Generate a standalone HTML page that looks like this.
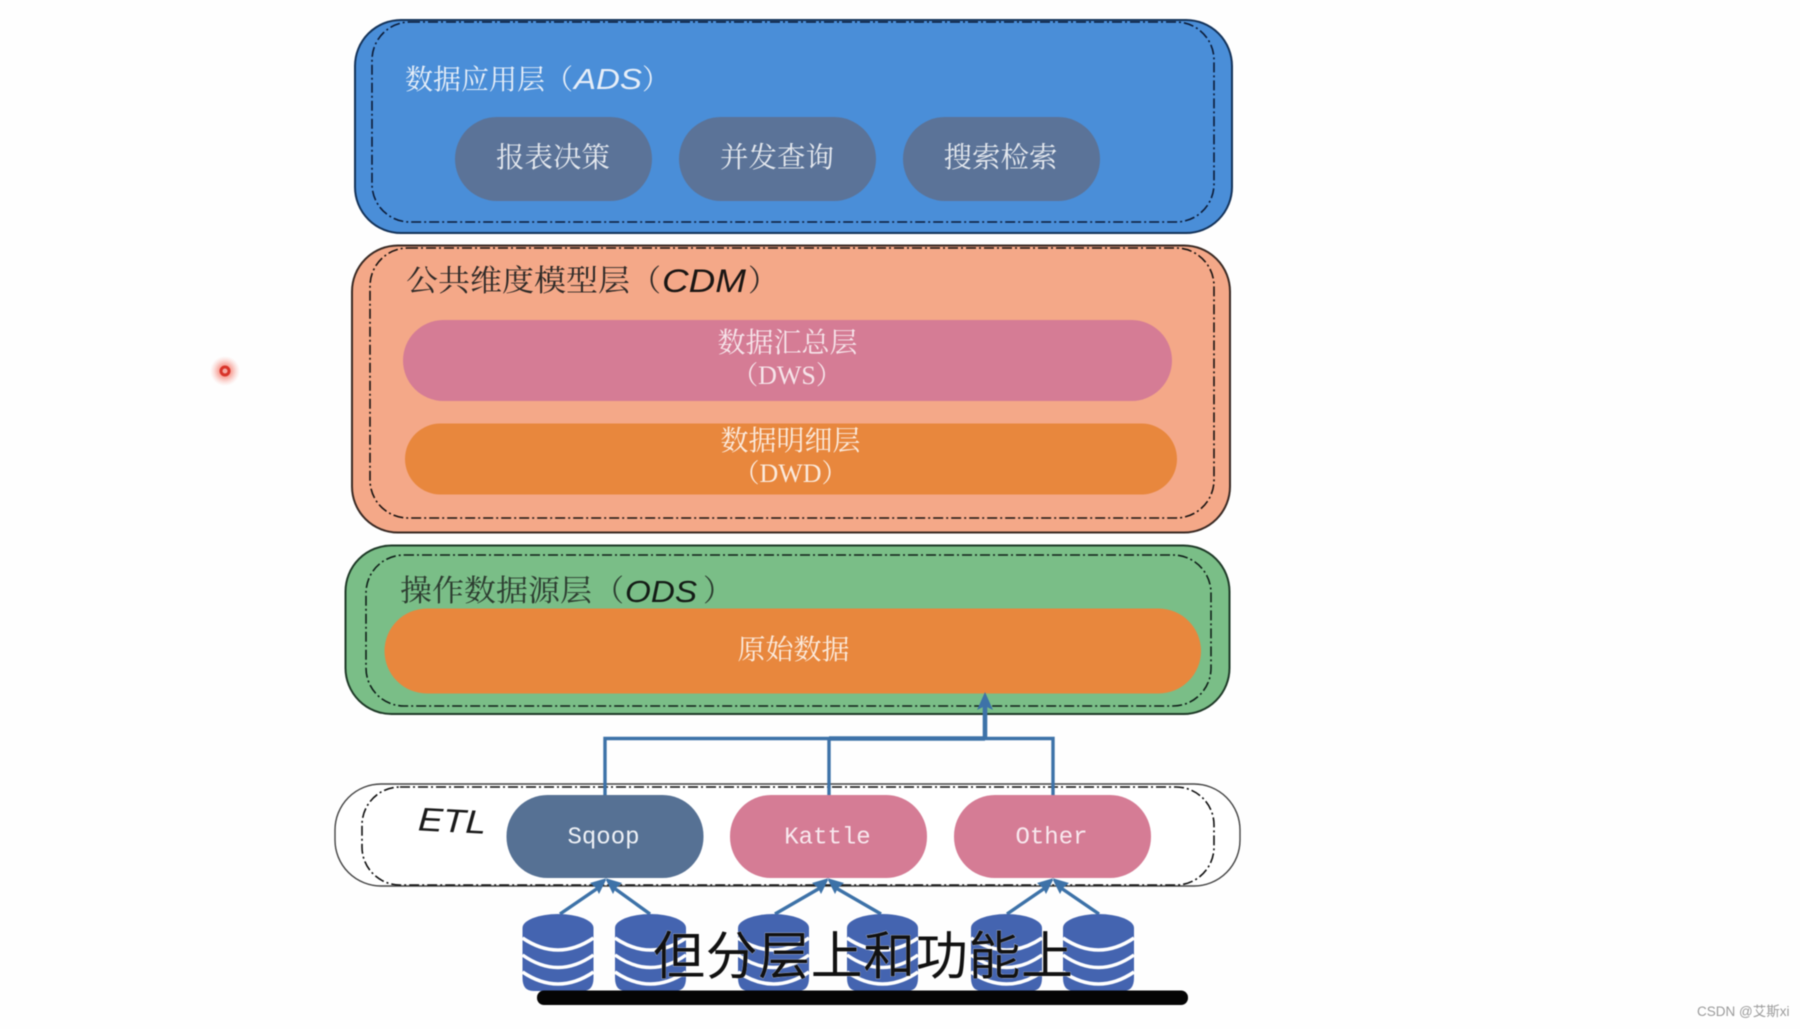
<!DOCTYPE html>
<html>
<head>
<meta charset="utf-8">
<style>
html,body{margin:0;padding:0;background:#fefefe;width:1800px;height:1029px;overflow:hidden}
svg{display:block;filter:blur(.55px)}
.s{font-family:"Liberation Serif","Noto Serif CJK SC",serif}
.h{font-family:"Liberation Sans","Noto Sans CJK SC",sans-serif}
.i{font-family:"Liberation Sans",sans-serif;font-style:italic}
.m{font-family:"Liberation Mono","Noto Serif CJK SC",monospace}
</style>
</head>
<body>
<svg width="1800" height="1029" viewBox="0 0 1800 1029" xmlns="http://www.w3.org/2000/svg">
<defs>
<radialGradient id="glow"><stop offset="0" stop-color="#f05040" stop-opacity=".8"/><stop offset=".45" stop-color="#f36a5a" stop-opacity=".55"/><stop offset="1" stop-color="#f8a8a0" stop-opacity="0"/></radialGradient>
<g id="db">
<path d="M0,14 A35.5,14 0 0 1 71,14 V64 Q71,77 60,77 H11 Q0,77 0,64 Z" fill="#4464b0"/>
<path d="M0,24 Q35.5,48 71,24 M0,41 Q35.5,66 71,41 M0,58 Q35.5,82 71,58" fill="none" stroke="#fff" stroke-width="3.5"/>
</g>
</defs>

<!-- ADS -->
<rect x="355" y="20" width="877" height="213" rx="46" fill="#4a8ed8" stroke="#14335a" stroke-width="2"/>
<rect x="372" y="22" width="842" height="200" rx="38" fill="none" stroke="#0c1c38" stroke-width="1.6" stroke-dasharray="10 3 2 3"/>
<text class="s" x="405" y="89" font-size="28" fill="#e6eef8">数据应用层</text>
<text class="s" x="545" y="89" font-size="28" fill="#e6eef8">（</text>
<text class="i" x="574" y="89" font-size="29" fill="#e6eef8" textLength="68" lengthAdjust="spacingAndGlyphs">ADS</text>
<text class="s" x="642" y="89" font-size="28" fill="#e6eef8">）</text>
<rect x="455" y="117" width="197" height="84" rx="42" fill="#5b7398"/>
<rect x="679" y="117" width="197" height="84" rx="42" fill="#5b7398"/>
<rect x="903" y="117" width="197" height="84" rx="42" fill="#5b7398"/>
<text class="s" x="553" y="167" font-size="28.5" fill="#e4e8ee" text-anchor="middle">报表决策</text>
<text class="s" x="777" y="167" font-size="28.5" fill="#e4e8ee" text-anchor="middle">并发查询</text>
<text class="s" x="1000.5" y="167" font-size="28.5" fill="#e4e8ee" text-anchor="middle">搜索检索</text>

<!-- CDM -->
<rect x="352" y="245.5" width="878" height="287" rx="46" fill="#f4a888" stroke="#3a2a24" stroke-width="2"/>
<rect x="370" y="248" width="844" height="270" rx="38" fill="none" stroke="#1a1412" stroke-width="1.6" stroke-dasharray="10 3 2 3"/>
<text class="s" x="406" y="291" font-size="30" fill="#2e2a28" textLength="224" lengthAdjust="spacingAndGlyphs">公共维度模型层</text>
<text class="s" x="631" y="291" font-size="30" fill="#2e2a28">（</text>
<text class="i" x="662" y="292" font-size="32" fill="#1a1614" textLength="84" lengthAdjust="spacingAndGlyphs">CDM</text>
<text class="s" x="748" y="291" font-size="30" fill="#2e2a28">）</text>
<rect x="403" y="320" width="769" height="81" rx="40.5" fill="#d57c95"/>
<rect x="405" y="423.5" width="772" height="71" rx="35.5" fill="#e8873d"/>
<text class="s" x="787.5" y="352" font-size="28" fill="#f6e4ea" text-anchor="middle">数据汇总层</text>
<text class="s" x="787" y="384" font-size="26" fill="#f6e4ea" text-anchor="middle">（DWS）</text>
<text class="s" x="790.5" y="450" font-size="28" fill="#fbeadc" text-anchor="middle">数据明细层</text>
<text class="s" x="790.5" y="482" font-size="26" fill="#fbeadc" text-anchor="middle">（DWD）</text>

<!-- ODS -->
<rect x="345.5" y="545.5" width="884" height="168.5" rx="46" fill="#7abe87" stroke="#1f3a28" stroke-width="2"/>
<rect x="366" y="555" width="845" height="151" rx="38" fill="none" stroke="#10201a" stroke-width="1.6" stroke-dasharray="10 3 2 3"/>
<text class="s" x="400" y="601" font-size="30" fill="#2c3c30" textLength="192" lengthAdjust="spacingAndGlyphs">操作数据源层</text>
<text class="s" x="594" y="601" font-size="30" fill="#2c3c30">（</text>
<text class="i" x="625" y="602" font-size="31" fill="#141c16" textLength="72" lengthAdjust="spacingAndGlyphs">ODS</text>
<text class="s" x="703" y="601" font-size="30" fill="#2c3c30">）</text>
<rect x="384.5" y="608.5" width="816.5" height="85" rx="42.5" fill="#e8873d"/>
<text class="s" x="793.5" y="659" font-size="28" fill="#fbeadc" text-anchor="middle">原始数据</text>

<!-- ETL -->
<rect x="335" y="784" width="905" height="102" rx="46" fill="#fff" stroke="#444" stroke-width="1.4"/>
<rect x="362" y="787" width="852" height="98" rx="38" fill="none" stroke="#111" stroke-width="1.6" stroke-dasharray="10 3 2 3"/>
<text class="i" x="418" y="832" font-size="33" fill="#1a1a1a" textLength="68" lengthAdjust="spacingAndGlyphs" transform="rotate(3 450 825)">ETL</text>

<!-- connectors -->
<path d="M605,796 V738.5 H1053 V796 M829,738.5 V796" fill="none" stroke="#3d72a8" stroke-width="3.4"/>
<path d="M829,738.5 H985 M985,738.5 V706" fill="none" stroke="#3d72a8" stroke-width="4.6"/>
<path d="M985,692 L993,710 L985,706 L977,710 Z" fill="#3d72a8"/>

<rect x="506.5" y="795" width="197" height="83" rx="41" fill="#567194"/>
<rect x="730" y="795" width="197" height="83" rx="41" fill="#d57c95"/>
<rect x="954" y="795" width="197" height="83" rx="41" fill="#d57c95"/>
<text class="m" x="603.5" y="843.5" font-size="24" fill="#eef1f6" text-anchor="middle">Sqoop</text>
<text class="m" x="827.5" y="843.5" font-size="24" fill="#f8e8ee" text-anchor="middle">Kattle</text>
<text class="m" x="1051.5" y="843.5" font-size="24" fill="#f8e8ee" text-anchor="middle">Other</text>

<!-- DB arrows -->
<g stroke="#3d72a8" stroke-width="3.4" fill="none">
<path d="M560,914 L598,888 M650,914 L614,888"/>
<path d="M775,914 L820,888 M881,914 L836,888"/>
<path d="M1007,914 L1045,888 M1099,914 L1061,888"/>
</g>
<g fill="#3d72a8">
<path d="M607,878 L590,883 L596,888 L599,894 Z M605,878 L622,883 L616,888 L613,894 Z"/>
<path d="M829,878 L812,883 L818,888 L821,894 Z M827,878 L844,883 L838,888 L835,894 Z"/>
<path d="M1054,878 L1037,883 L1043,888 L1046,894 Z M1052,878 L1069,883 L1063,888 L1060,894 Z"/>
</g>

<!-- databases -->
<use href="#db" x="522.5" y="914"/>
<use href="#db" x="615" y="914"/>
<use href="#db" x="738" y="914"/>
<use href="#db" x="847" y="914"/>
<use href="#db" x="971" y="914"/>
<use href="#db" x="1063" y="914"/>

<!-- subtitle -->
<text class="h" x="653" y="974.5" font-size="52" fill="#111" stroke="#fff" stroke-width="0.4" paint-order="stroke" textLength="420" lengthAdjust="spacing" font-weight="400">但分层上和功能上</text>
<rect x="537" y="990.5" width="651" height="14.5" rx="7" fill="#050505"/>

<!-- pointer -->
<circle cx="225" cy="371" r="15" fill="url(#glow)"/>
<circle cx="225" cy="371" r="4" fill="#f4a8a0" stroke="#d8342a" stroke-width="3"/>

<!-- watermark -->
<text class="h" x="1697" y="1016" font-size="13.5" fill="#9a9a9a">CSDN @艾斯xi</text>
</svg>
</body>
</html>
